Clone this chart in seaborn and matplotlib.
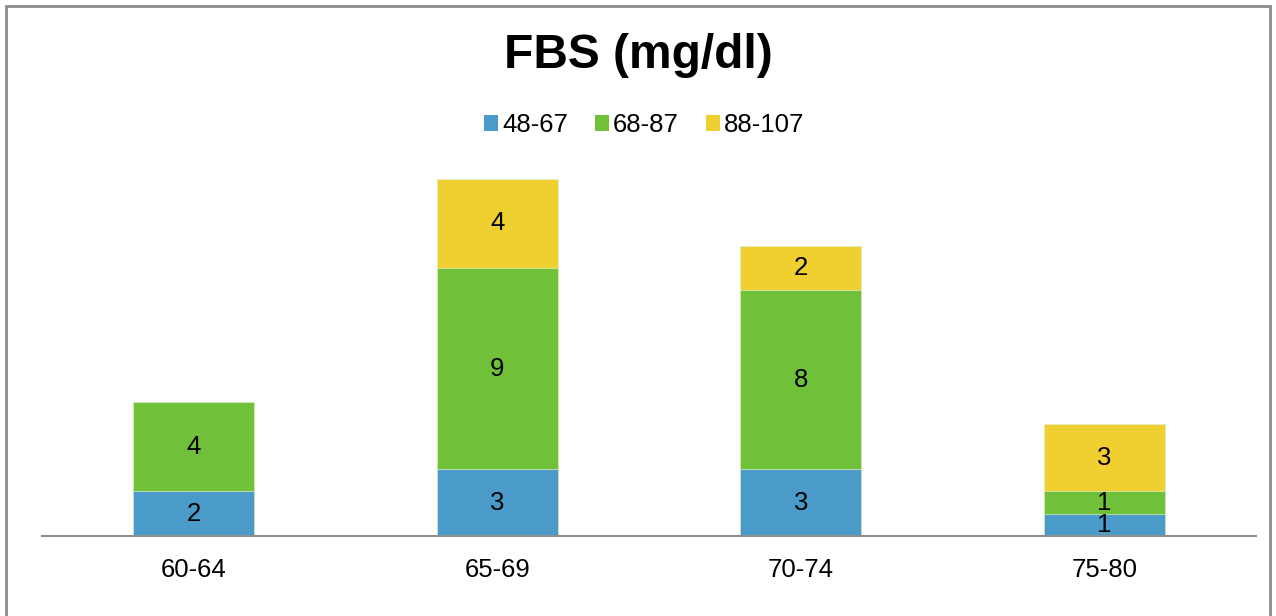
import matplotlib
matplotlib.use("Agg")
import matplotlib.pyplot as plt
from matplotlib.patches import Rectangle, Patch
import seaborn as sns
import pandas as pd
import numpy as np

categories = ["60-64", "65-69", "70-74", "75-80"]
series_names = ["48-67", "68-87", "88-107"]
low_vals = [2, 3, 3, 1]
mid_vals = [4, 9, 8, 1]
high_vals = [0, 4, 2, 3]
colors = ["#4A9BCA", "#70C03A", "#F0CF30"]

sns.set_theme(style="white")
plt.rcParams["font.family"] = ["Liberation Sans", "DejaVu Sans"]
plt.rcParams["text.color"] = "black"
plt.rcParams["xtick.color"] = "black"

W, H = 1276, 616
fig = plt.figure(figsize=(W / 100, H / 100), dpi=100)
# axes placed in pixel terms: x 42..1256, baseline at y=536
ax_left, ax_right = 42 / W, 1256 / W
ax_bottom = 1 - 536 / H
ymax = 18
ax_top_px = 536 - ymax * 22.33
ax = fig.add_axes([ax_left, ax_bottom, ax_right - ax_left, (536 - ax_top_px) / H])

series = [low_vals, mid_vals, high_vals]
cum = np.cumsum(np.array(series), axis=0)

# draw cumulative totals from the top layer down so lower layers sit in front
for i in reversed(range(len(series))):
    df = pd.DataFrame({"age": categories, "total": cum[i]})
    sns.barplot(data=df, x="age", y="total", color=colors[i], width=0.4,
                saturation=1, ax=ax, edgecolor="#dcefc8", linewidth=0.5)

# segment labels
for i, vals in enumerate(series):
    for j, v in enumerate(vals):
        if v == 0:
            continue
        base = cum[i][j] - v
        ax.text(j, base + v / 2, str(v), ha="center", va="center",
                fontsize=18.5, color="black")

ax.set_xlim(-0.5, 3.5)
ax.set_ylim(0, ymax)
ax.set_xlabel("")
ax.set_ylabel("")
ax.set_yticks([])
for s in ["left", "top", "right"]:
    ax.spines[s].set_visible(False)
ax.spines["bottom"].set_color("#8f8f8f")
ax.spines["bottom"].set_linewidth(1.5)
ax.tick_params(axis="x", length=0, pad=16, labelsize=18.5, labelcolor="black")

fig.text(0.5, 1 - 55 / H, "FBS (mg/dl)", ha="center", va="center",
         fontsize=34.5, fontweight="bold", color="black")

handles = [Patch(facecolor=c, edgecolor="none") for c in colors]
leg = fig.legend(handles, series_names, loc="center", bbox_to_anchor=(0.5047, 1 - 125 / H),
                 ncol=3, frameon=False, fontsize=18.5, handlelength=0.55, handleheight=0.55,
                 handletextpad=0.15, columnspacing=1.05)
for t in leg.get_texts():
    t.set_color("black")

fig.add_artist(Rectangle((6 / W, -0.05), (1270 - 6) / W, 1.05 - 6 / H,
                         transform=fig.transFigure, fill=False,
                         edgecolor="#8c8c8c", linewidth=2))

fig.savefig("out.png", dpi=100)
